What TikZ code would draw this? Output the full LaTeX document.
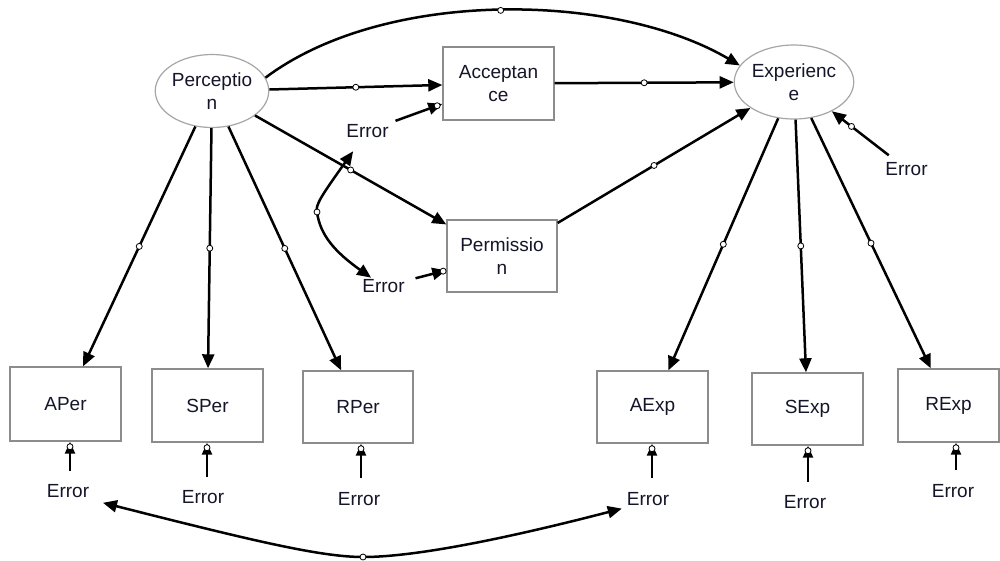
\documentclass[tikz,border=0pt]{standalone}
\usepackage{fontspec}
\setmainfont{Liberation Sans}
\usetikzlibrary{arrows.meta,shapes.geometric,calc}
\definecolor{txt}{HTML}{15152A}
\definecolor{boxgray}{HTML}{8C8C8C}
\definecolor{ellgray}{HTML}{A6A6A6}
\begin{document}
\begin{tikzpicture}[x=1pt,y=-1pt,
  font=\fontsize{19}{23}\selectfont,
  lat/.style={ellipse, draw=ellgray, line width=1.2pt, minimum width=113pt, minimum height=73pt, inner sep=0pt, align=center, text=txt},
  obs/.style={rectangle, draw=boxgray, line width=1.4pt, minimum width=111pt, minimum height=73pt, inner sep=0pt, align=center, text=txt},
  err/.style={inner sep=2pt, text=txt},
  arr/.style={line width=2.5pt, -{Triangle[length=14pt,width=12pt]}},
  sarr/.style={line width=2.4pt, -{Triangle[length=12pt,width=10pt]}},
  dbl/.style={line width=2.5pt, {Triangle[length=14pt,width=12pt]}-{Triangle[length=14pt,width=12pt]}},
  dot/.style={circle, draw, fill=white, line width=0.8pt, inner sep=0pt, minimum size=6pt}
]
\useasboundingbox[fill=white] (0,0) rectangle (1000,560);

% latent variables
\node[lat] (per) at (212,91) {Perceptio\\n};
\node[lat, minimum width=112pt, minimum height=74pt] (exp) at (794,82) {Experienc\\e};

% mediators
\node[obs] (acc) at (498.5,83.5) {Acceptan\\ce};
\node[obs, minimum width=110pt, minimum height=72pt] (perm) at (502,256) {Permissio\\n};

% indicators
\node[obs, minimum height=74pt] (aper) at (65.5,404) {APer};
\node[obs] (sper) at (207.5,405.5) {SPer};
\node[obs, minimum width=110pt, minimum height=72pt] (rper) at (358,407) {RPer};
\node[obs, minimum height=72pt] (aexp) at (652.5,407) {AExp};
\node[obs, minimum height=72pt] (sexp) at (807.5,409) {SExp};
\node[obs, minimum width=101pt] (rexp) at (948.5,405.5) {RExp};

% error labels
\node[err] (eacc) at (367.5,131) {Error};
\node[err] (eperm) at (383.5,286.5) {Error};
\node[err] (eexp) at (906.5,169) {Error};
\node[err] (e1) at (68,491) {Error};
\node[err] (e2) at (203,497) {Error};
\node[err] (e3) at (359,499) {Error};
\node[err] (e4) at (648,499) {Error};
\node[err] (e5) at (805,502) {Error};
\node[err] (e6) at (953,491.5) {Error};

% structural paths
\draw[arr] (per.14) .. controls (385,-12) and (615,-8) .. node[dot, pos=0.5]{} (exp.163);
\draw[arr] (per) -- node[dot]{} (acc);
\draw[arr] (per) -- node[dot]{} (perm);
\draw[arr] (acc) -- node[dot]{} (exp);
\draw[arr] (perm) -- node[dot]{} (exp);

% loadings
\draw[arr] (per) -- node[dot]{} (aper);
\draw[arr] (per) -- node[dot]{} (sper);
\draw[arr] (per) -- node[dot]{} (rper);
\draw[arr] (exp) -- node[dot]{} (aexp);
\draw[arr] (exp) -- node[dot]{} (sexp);
\draw[arr] (exp) -- node[dot]{} (rexp);

% disturbances
\draw[arr, shorten <=5pt] (eacc) -- node[dot, pos=0.9]{} (acc);
\draw[arr, shorten <=9pt] (eperm) -- node[dot, pos=0.92]{} (perm);
\draw[arr, shorten <=8pt] (eexp) -- node[dot, pos=0.69]{} (exp);

% measurement errors
\draw[sarr, shorten <=11pt] ($(e1.north)+(2,0)$) -- ($(e1.north |- aper.south)+(2,0)$) node[dot, yshift=-5pt]{};
\draw[sarr, shorten <=11pt] ($(e2.north)+(4,0)$) -- ($(e2.north |- sper.south)+(4,0)$) node[dot, yshift=-5pt]{};
\draw[sarr, shorten <=12pt] ($(e3.north)+(2,0)$) -- ($(e3.north |- rper.south)+(2,0)$) node[dot, yshift=-5pt]{};
\draw[sarr, shorten <=12pt] ($(e4.north)+(4,0)$) -- ($(e4.north |- aexp.south)+(4,0)$) node[dot, yshift=-5pt]{};
\draw[sarr, shorten <=11pt] ($(e5.north)+(3,0)$) -- ($(e5.north |- sexp.south)+(3,0)$) node[dot, yshift=-5pt]{};
\draw[sarr, shorten <=13pt] ($(e6.north)+(3,0)$) -- ($(e6.north |- rexp.south)+(3,0)$) node[dot, yshift=-5pt]{};

% covariances
\draw[dbl, shorten <=14pt] (eacc) .. controls (322,195) and (315,205) .. (317,212) node[dot]{}
  .. controls (320,235) and (335,252) .. (eperm);
\draw[dbl, shorten <=12pt, shorten >=3pt] (e1.south east) .. controls (250,540) and (320,557) .. (363,557) node[dot]{}
  .. controls (420,557) and (520,535) .. (e4.south west);
\end{tikzpicture}
\end{document}
